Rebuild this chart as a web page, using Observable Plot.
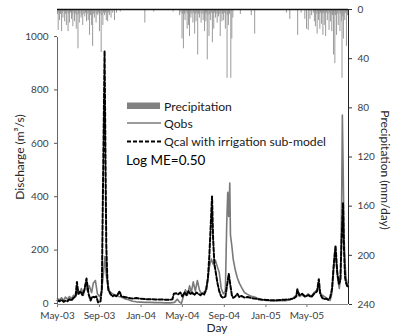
<!DOCTYPE html>
<html><head><meta charset="utf-8">
<script src="https://cdn.jsdelivr.net/npm/d3@7"></script>
<script src="https://cdn.jsdelivr.net/npm/@observablehq/plot@0.6"></script>
<style>
body{margin:0;background:#fff;}
#wrap{position:relative;width:394px;height:334px;font-family:Lato,"Open Sans",sans-serif;}
#wrap svg{position:absolute;left:0;top:0;}
</style></head><body><div id="wrap"></div>
<script>
const qobsDates = ["2003-05-01","2003-05-07","2003-05-13","2003-05-19","2003-05-24","2003-05-30","2003-06-05","2003-06-11","2003-06-17","2003-06-23","2003-06-29","2003-07-04","2003-07-10","2003-07-16","2003-07-22","2003-07-28","2003-08-02","2003-08-09","2003-08-14","2003-08-20","2003-08-26","2003-09-01","2003-09-07","2003-09-13","2003-09-17","2003-09-21","2003-09-26","2003-09-30","2003-10-09","2003-10-18","2003-10-27","2003-11-04","2003-11-13","2003-11-25","2003-12-07","2003-12-18","2003-12-30","2004-01-14","2004-01-28","2004-02-12","2004-02-27","2004-03-12","2004-03-27","2004-04-08","2004-04-16","2004-04-22","2004-04-28","2004-05-04","2004-05-10","2004-05-16","2004-05-22","2004-05-27","2004-06-02","2004-06-08","2004-06-14","2004-06-20","2004-06-26","2004-07-02","2004-07-07","2004-07-13","2004-07-19","2004-07-25","2004-07-31","2004-08-06","2004-08-12","2004-08-17","2004-08-23","2004-08-29","2004-09-04","2004-09-08","2004-09-11","2004-09-14","2004-09-17","2004-09-19","2004-09-23","2004-09-27","2004-10-03","2004-10-09","2004-10-15","2004-10-21","2004-10-30","2004-11-08","2004-11-17","2004-11-29","2004-12-10","2004-12-21","2005-01-02","2005-01-14","2005-01-28","2005-02-12","2005-02-27","2005-03-13","2005-03-22","2005-03-31","2005-04-03","2005-04-09","2005-04-17","2005-04-26","2005-05-05","2005-05-14","2005-05-22","2005-05-31","2005-06-05","2005-06-09","2005-06-15","2005-06-21","2005-06-27","2005-07-02","2005-07-08","2005-07-13","2005-07-17","2005-07-22","2005-07-26","2005-07-30","2005-08-04","2005-08-08","2005-08-11","2005-08-13","2005-08-16","2005-08-18","2005-08-21","2005-08-24","2005-08-27","2005-08-30"];
const qobsValues = [22,18,25,15,28,20,30,22,35,30,55,40,60,35,75,50,70,45,80,90,40,30,45,120,180,110,70,50,40,35,30,28,22,18,12,10,9,8,8,7,7,6,6,8,20,10,4,30,55,35,70,45,85,50,90,55,40,45,50,80,140,170,150,165,140,120,60,40,50,300,420,330,455,260,220,170,130,100,80,65,45,38,32,28,22,18,15,14,13,15,14,18,25,35,60,30,35,28,40,30,45,55,72,45,35,30,25,18,15,40,120,200,160,100,60,100,400,710,450,250,150,100,80,75];

const qcalDates = ["2003-05-01","2003-05-07","2003-05-13","2003-05-19","2003-05-24","2003-05-30","2003-06-05","2003-06-11","2003-06-17","2003-06-23","2003-06-27","2003-07-01","2003-07-07","2003-07-13","2003-07-19","2003-07-25","2003-07-31","2003-08-06","2003-08-11","2003-08-17","2003-08-23","2003-08-28","2003-09-04","2003-09-08","2003-09-11","2003-09-16","2003-09-19","2003-09-21","2003-09-24","2003-09-27","2003-10-03","2003-10-09","2003-10-15","2003-10-21","2003-10-30","2003-11-04","2003-11-13","2003-11-25","2003-12-07","2003-12-18","2003-12-30","2004-01-14","2004-01-28","2004-02-12","2004-02-27","2004-03-12","2004-03-27","2004-04-02","2004-04-06","2004-04-13","2004-04-19","2004-04-25","2004-05-01","2004-05-07","2004-05-13","2004-05-19","2004-05-24","2004-05-30","2004-06-05","2004-06-11","2004-06-17","2004-06-23","2004-06-29","2004-07-04","2004-07-10","2004-07-15","2004-07-19","2004-07-24","2004-07-27","2004-07-30","2004-08-03","2004-08-07","2004-08-12","2004-08-17","2004-08-23","2004-08-29","2004-09-04","2004-09-10","2004-09-14","2004-09-19","2004-09-23","2004-09-27","2004-10-03","2004-10-09","2004-10-15","2004-10-21","2004-10-30","2004-11-08","2004-11-17","2004-11-29","2004-12-10","2004-12-21","2005-01-02","2005-01-14","2005-01-28","2005-02-12","2005-02-27","2005-03-13","2005-03-22","2005-03-31","2005-04-03","2005-04-09","2005-04-17","2005-04-26","2005-05-05","2005-05-14","2005-05-22","2005-05-31","2005-06-05","2005-06-09","2005-06-15","2005-06-21","2005-06-27","2005-07-02","2005-07-08","2005-07-14","2005-07-19","2005-07-24","2005-07-29","2005-08-03","2005-08-07","2005-08-11","2005-08-15","2005-08-18","2005-08-21","2005-08-24","2005-08-27","2005-08-30"];
const qcalValues = [15,12,18,10,14,12,20,15,25,30,84,40,50,35,55,97,40,15,30,27,30,8,12,60,400,950,500,220,100,55,40,30,35,30,50,30,28,25,22,24,22,20,20,19,19,18,18,20,40,42,38,45,30,45,35,50,38,45,35,45,40,35,42,38,55,100,180,320,405,250,150,120,80,50,30,25,30,80,115,70,35,25,30,40,28,32,26,28,25,22,20,18,17,16,16,17,18,20,22,30,55,35,40,30,35,28,40,50,95,40,25,20,22,18,25,60,150,221,120,78,90,250,380,200,100,80,70,65];

const precipDates = ["2003-05-01","2003-05-03","2003-05-05","2003-05-07","2003-05-10","2003-05-13","2003-05-15","2003-05-17","2003-05-20","2003-05-22","2003-05-24","2003-05-27","2003-05-29","2003-06-01","2003-06-03","2003-06-05","2003-06-08","2003-06-11","2003-06-13","2003-06-15","2003-06-18","2003-06-20","2003-06-22","2003-06-25","2003-06-27","2003-06-30","2003-07-02","2003-07-04","2003-07-06","2003-07-09","2003-07-11","2003-07-14","2003-07-17","2003-07-20","2003-07-22","2003-07-25","2003-07-27","2003-07-30","2003-08-01","2003-08-03","2003-08-06","2003-08-09","2003-08-12","2003-08-14","2003-08-17","2003-08-19","2003-08-22","2003-08-24","2003-08-27","2003-08-29","2003-09-01","2003-09-03","2003-09-06","2003-09-08","2003-09-11","2003-09-13","2003-09-16","2003-09-19","2003-09-21","2003-09-23","2003-09-25","2003-09-28","2003-09-30","2003-10-05","2003-10-10","2003-10-15","2003-10-21","2003-11-01","2004-01-12","2004-02-07","2004-04-04","2004-04-23","2004-04-27","2004-04-30","2004-05-02","2004-05-04","2004-05-07","2004-05-09","2004-05-12","2004-05-15","2004-05-17","2004-05-19","2004-05-22","2004-05-24","2004-05-26","2004-05-29","2004-06-01","2004-06-03","2004-06-06","2004-06-08","2004-06-10","2004-06-12","2004-06-15","2004-06-17","2004-06-20","2004-06-22","2004-06-25","2004-06-28","2004-07-01","2004-07-03","2004-07-05","2004-07-07","2004-07-09","2004-07-11","2004-07-13","2004-07-15","2004-07-18","2004-07-20","2004-07-23","2004-07-25","2004-07-28","2004-07-30","2004-08-01","2004-08-03","2004-08-06","2004-08-08","2004-08-11","2004-08-13","2004-08-15","2004-08-17","2004-08-20","2004-08-22","2004-08-25","2004-08-27","2004-08-30","2004-09-01","2004-09-04","2004-09-06","2004-09-09","2004-09-11","2004-09-13","2004-09-16","2004-09-20","2004-09-23","2004-09-26","2004-10-18","2004-11-19","2004-11-29","2005-03-02","2005-03-12","2005-04-04","2005-04-14","2005-04-25","2005-04-30","2005-05-05","2005-05-10","2005-05-15","2005-05-20","2005-05-23","2005-05-26","2005-05-28","2005-05-31","2005-06-02","2005-06-04","2005-06-06","2005-06-08","2005-06-10","2005-06-13","2005-06-15","2005-06-17","2005-06-19","2005-06-21","2005-06-23","2005-06-25","2005-06-27","2005-06-30","2005-07-02","2005-07-05","2005-07-07","2005-07-09","2005-07-11","2005-07-13","2005-07-15","2005-07-18","2005-07-20","2005-07-22","2005-07-24","2005-07-27","2005-07-29","2005-08-01","2005-08-03","2005-08-06","2005-08-08","2005-08-10","2005-08-12","2005-08-14","2005-08-16","2005-08-18","2005-08-20","2005-08-22","2005-08-25","2005-08-28"];
const precipValues = [4,17,3,9,4,18,3,7,2,10,4,13,3,18,4,11,3,8,5,14,3,10,4,16,5,32,4,11,3,7,5,13,4,6,3,10,4,9,3,21,5,13,30,4,7,3,11,4,5,3,18,4,35,5,13,3,5,3,9,2,10,3,5,7,3,9,3,2,11,2,2,5,3,24,4,32,4,9,3,16,4,13,22,3,7,4,11,3,20,4,10,3,37,4,7,3,11,4,9,3,18,4,10,3,41,5,22,4,9,3,27,4,16,3,7,4,11,3,6,4,22,3,10,4,9,3,16,4,56,5,13,4,56,24,7,4,5,20,3,8,21,3,8,16,17,8,5,3,10,14,4,20,3,9,4,16,3,12,4,21,3,13,4,22,3,9,4,17,3,10,4,18,5,37,4,44,5,21,4,13,3,18,4,10,56,6,24,4,9,3,30,5];

const dischargeTicks = [0,200,400,600,800,1000];
const precipTicks = [0,40,80,120,160,200,240];
const monthTicks = ["2003-05-01","2003-09-01","2004-01-01","2004-05-01","2004-09-01","2005-01-01","2005-05-01"];

const parse = s => new Date(s + "T00:00:00Z");
const qobs = qobsDates.map((d,i)=>({date:parse(d), v:qobsValues[i]}));
const qcal = qcalDates.map((d,i)=>({date:parse(d), v:qcalValues[i]}));
const precip = precipDates.map((d,i)=>({date:parse(d), v:precipValues[i]}));

const W=394, H=334, mL=57, mR=46, mT=9, mB=30;
const xDomain=[parse("2003-05-01"), parse("2005-08-31")];
const font = {fontFamily:"Lato, 'Open Sans', sans-serif", fontSize:"10px", color:"#404040", background:"transparent", overflow:"visible"};

const pPrecip = Plot.plot({
  width:W, height:H, marginLeft:mL, marginRight:mR, marginTop:mT, marginBottom:mB,
  style:font,
  x:{type:"utc", domain:xDomain, axis:null},
  y:{domain:[0,240], reverse:true, axis:null},
  marks:[
    Plot.ruleX(precip,{x:"date", y1:0, y2:"v", stroke:"#9a9a9a", strokeWidth:1}),
    Plot.axisY(precipTicks,{anchor:"right", tickSize:3, tickPadding:6, stroke:"#333", tickFormat:d3.format("d"), label:null}),
    Plot.ruleX([xDomain[1]],{y1:0, y2:240, stroke:"#222", strokeWidth:1}),
    Plot.ruleY([0],{stroke:"#111", strokeWidth:1.6})
  ]
});

const pQ = Plot.plot({
  width:W, height:H, marginLeft:mL, marginRight:mR, marginTop:mT, marginBottom:mB,
  style:font,
  x:{type:"utc", domain:xDomain},
  y:{domain:[0,1105]},
  marks:[
    Plot.line(qobs,{x:"date", y:"v", stroke:"#7a7a7a", strokeWidth:1.6}),
    Plot.line(qcal,{x:"date", y:"v", stroke:"#000", strokeWidth:2, strokeDasharray:"4,2"}),
    Plot.axisX(monthTicks.map(parse),{tickFormat:d3.utcFormat("%b-%y"), tickSize:3, tickPadding:4, stroke:"#777", label:null}),
    Plot.axisY(dischargeTicks,{tickSize:3, tickPadding:6, stroke:"#555", tickFormat:d3.format("d"), dy:-1, label:null}),
    Plot.ruleY([0],{stroke:"#888", strokeWidth:1.2}),
    Plot.ruleX([xDomain[0]],{y1:0, y2:1000, stroke:"#666", strokeWidth:1})
  ]
});

const wrap = document.getElementById("wrap");
wrap.appendChild(pPrecip);
wrap.appendChild(pQ);

// titles and legend
const svg = d3.create("svg").attr("width",W).attr("height",H)
  .style("font-family","Lato, 'Open Sans', sans-serif").style("overflow","visible");
svg.append("text").attr("transform","translate(19,157) rotate(-90)")
  .attr("text-anchor","middle").attr("dominant-baseline","central")
  .attr("font-size",12).attr("fill","#262626").text("Discharge (m³/s)");
svg.append("text").attr("transform","translate(385,170) rotate(90)")
  .attr("text-anchor","middle").attr("dominant-baseline","central")
  .attr("font-size",12).attr("fill","#262626").text("Precipitation (mm/day)");
svg.append("text").attr("x",217).attr("y",327)
  .attr("text-anchor","middle").attr("dominant-baseline","central")
  .attr("font-size",12).attr("fill","#262626").text("Day");

const lg = svg.append("g");
lg.append("rect").attr("x",127).attr("y",102.5).attr("width",33).attr("height",6.5).attr("fill","#808080");
lg.append("line").attr("x1",127).attr("x2",161).attr("y1",123).attr("y2",123).attr("stroke","#7a7a7a").attr("stroke-width",1.5);
lg.append("line").attr("x1",127).attr("x2",161).attr("y1",141.5).attr("y2",141.5).attr("stroke","#000").attr("stroke-width",2).attr("stroke-dasharray","4,2");
const items = [["Precipitation",106],["Qobs",123],["Qcal with irrigation sub-model",141.5]];
items.forEach(([t,y])=>{
  lg.append("text").attr("x",164).attr("y",y).attr("dominant-baseline","central")
    .attr("font-size",12.2).attr("fill","#1a1a1a").text(t);
});
lg.append("text").attr("x",126).attr("y",159.5).attr("dominant-baseline","central")
  .attr("font-size",13.5).attr("fill","#000").text("Log ME=0.50");
wrap.appendChild(svg.node());
</script>
</body></html>
